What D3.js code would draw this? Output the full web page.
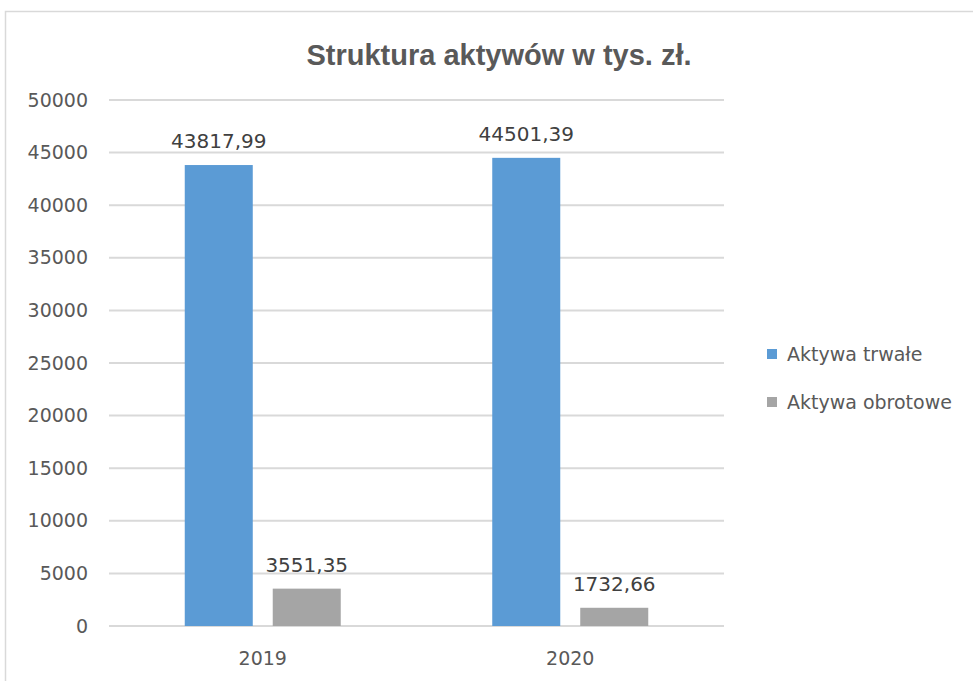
<!DOCTYPE html>
<html>
<head>
<meta charset="utf-8">
<script src="https://cdnjs.cloudflare.com/ajax/libs/d3/7.8.5/d3.min.js"></script>
<style>
  body { margin: 0; background: #fff; }
  text { font-family: "DejaVu Sans", sans-serif; }
</style>
</head>
<body>
<div id="chart"></div>
<script>
// chart data
const years = ["2019", "2020"];
const seriesNames = ["Aktywa trwałe", "Aktywa obrotowe"];
const trwale = [43817.99, 44501.39];
const obrotowe = [3551.35, 1732.66];
const yTicks = [0, 5000, 10000, 15000, 20000, 25000, 30000, 35000, 40000, 45000, 50000];
const colors = ["#5b9bd5", "#a5a5a5"];

const width = 973, height = 681;

const svg = d3.select("#chart").append("svg")
    .attr("width", width)
    .attr("height", height);

// outer frame of the chart area
svg.append("rect")
    .attr("x", 5.5).attr("y", 11.5)
    .attr("width", 1000).attr("height", 700)
    .attr("fill", "none")
    .attr("stroke", "#d9d9d9")
    .attr("stroke-width", 1.5);

// title
svg.append("text")
    .attr("x", 499).attr("y", 65)
    .attr("text-anchor", "middle")
    .style("font-family", "'Liberation Sans', Arial, sans-serif")
    .style("font-weight", "bold")
    .style("font-size", "29px")
    .attr("fill", "#595959")
    .text("Struktura aktywów w tys. zł.");

// scales
const y = d3.scaleLinear().domain([0, 50000]).range([626, 100]);

const x0 = d3.scaleBand().domain(years).range([109, 724]);
const groupW = 156;
const x1 = d3.scaleBand().domain(seriesNames)
    .range([0, groupW])
    .paddingInner(0.227);
const groupOffset = (x0.bandwidth() - groupW) / 2;

// gridlines
svg.append("g").selectAll("line")
    .data(yTicks)
    .join("line")
    .attr("x1", 109).attr("x2", 724)
    .attr("y1", d => y(d)).attr("y2", d => y(d))
    .attr("stroke", "#d9d9d9")
    .attr("stroke-width", 2);

// y axis labels
svg.append("g").selectAll("text")
    .data(yTicks)
    .join("text")
    .attr("x", 88)
    .attr("y", d => y(d))
    .attr("dy", "0.35em")
    .attr("text-anchor", "end")
    .style("font-size", "19px")
    .attr("fill", "#595959")
    .text(d => d);

// x axis labels
svg.append("g").selectAll("text")
    .data(years)
    .join("text")
    .attr("x", d => x0(d) + x0.bandwidth() / 2)
    .attr("y", 658)
    .attr("dy", "0.35em")
    .attr("text-anchor", "middle")
    .style("font-size", "19px")
    .attr("fill", "#595959")
    .text(d => d);

// bar data, one record per bar
const barData = [];
years.forEach((yr, i) => {
    barData.push({year: yr, series: seriesNames[0], value: trwale[i], color: colors[0]});
    barData.push({year: yr, series: seriesNames[1], value: obrotowe[i], color: colors[1]});
});

const fmt = v => v.toFixed(2).replace(".", ",");

svg.append("g").selectAll("rect")
    .data(barData)
    .join("rect")
    .attr("x", d => x0(d.year) + groupOffset + x1(d.series))
    .attr("y", d => y(d.value))
    .attr("width", x1.bandwidth())
    .attr("height", d => y(0) - y(d.value))
    .attr("fill", d => d.color);

// data labels
svg.append("g").selectAll("text")
    .data(barData)
    .join("text")
    .attr("x", d => x0(d.year) + groupOffset + x1(d.series) + x1.bandwidth() / 2)
    .attr("y", d => y(d.value) - 17)
    .attr("text-anchor", "middle")
    .style("font-size", "20px")
    .attr("fill", "#404040")
    .text(d => fmt(d.value));

// legend
const legend = svg.append("g").selectAll("g")
    .data(seriesNames)
    .join("g")
    .attr("transform", (d, i) => `translate(767, ${354 + i * 48})`);

legend.append("rect")
    .attr("x", 0).attr("y", -5)
    .attr("width", 10).attr("height", 10)
    .attr("fill", (d, i) => colors[i]);

legend.append("text")
    .attr("x", 20)
    .attr("y", 0)
    .attr("dy", "0.35em")
    .style("font-size", "19px")
    .attr("fill", "#595959")
    .text(d => d);
</script>
</body>
</html>
